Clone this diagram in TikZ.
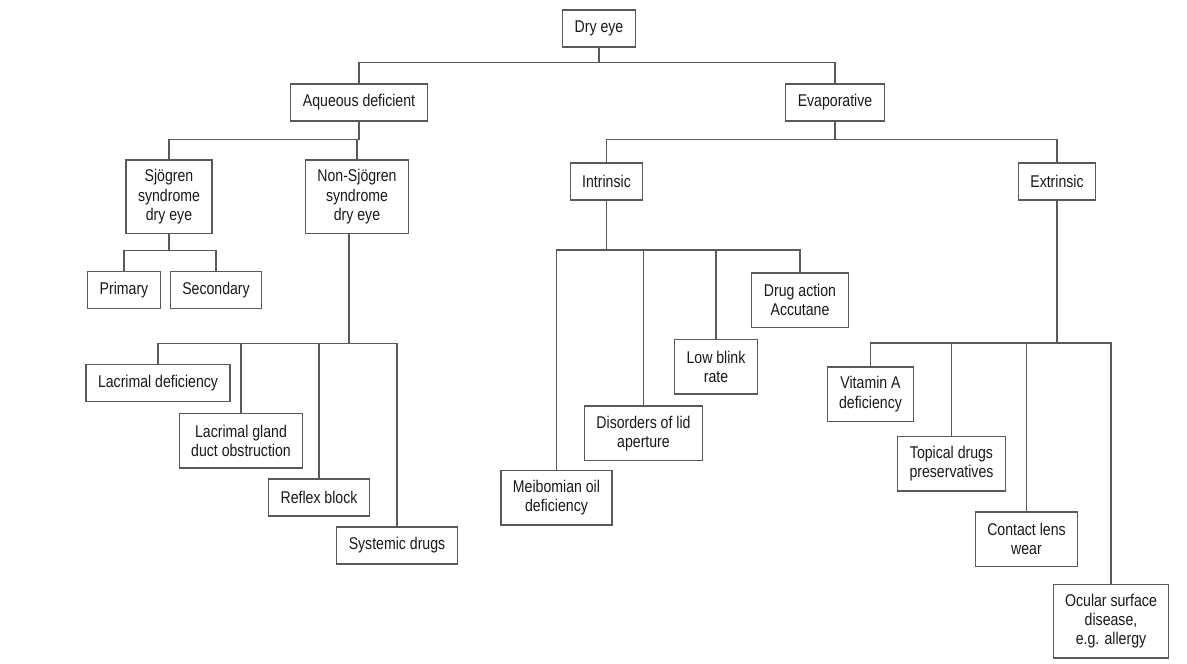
\documentclass[tikz,border=0pt]{standalone}
\usepackage{fontspec}
\setmainfont[FakeStretch=0.83]{Liberation Sans}
\usetikzlibrary{positioning}
\tikzset{box node/.style={draw=black!65, rectangle, align=center, inner xsep=12pt, inner ysep=4pt, outer sep=0pt, minimum height=37pt, text=black!90, font=\fontsize{17pt}{19.3pt}\selectfont},
two line/.style={box node, minimum height=54.5pt},
three line/.style={box node, minimum height=73.5pt},
branch/.style={to path={(\tikztostart.south) -- ++(0,-#1) -| (\tikztotarget.north)}},
left branch/.style={to path={([xshift=-8pt]\tikztostart.south) -- ++(0,-#1) -| (\tikztotarget.north)}},}

\begin{document}
\begin{tikzpicture}[line width=1.1pt]
        \useasboundingbox (0,0) rectangle (1187pt,-664pt);
        % Nodes
        \node[box node] (dry) at (599pt,-28.5pt) {Dry eye};
        \node[box node] [below=37pt of dry, xshift=-240pt] (aq) {Aqueous deficient};
        \node[box node] [below=37pt of dry, xshift=236pt] (evap) {Evaporative};
        \node[three line] [below=39pt of aq, xshift=-190pt] (sjo) {Sjögren\\syndrome\\dry eye};
        \node[three line] [below=39pt of aq, xshift=-2pt] (nonsjo) {Non-Sjögren\\syndrome\\dry eye};
        \node[box node] [below=38pt of sjo, xshift=-45pt] (primary) {Primary};
        \node[box node] [below=38pt of sjo, xshift=47pt] (secondary) {Secondary};
        \node[box node] [below=131pt of nonsjo, xshift=-199pt] (lacdef) {Lacrimal deficiency};
        \node[two line] [below=12pt of lacdef, xshift=83pt] (lacgland) {Lacrimal gland\\duct obstruction};
        \node[box node] [below=11pt of lacgland, xshift=78pt] (reflex) {Reflex block};
        \node[box node] [below=11pt of reflex, xshift=78pt] (systemic) {Systemic drugs};
        \node[box node] [below=42pt of evap, xshift=-228.5pt] (intr) {Intrinsic};
        \node[box node] [below=42pt of evap, xshift=222pt] (extr) {Extrinsic};
        \node[two line] [below=73pt of intr, xshift=193.5pt] (drug) {Drug action\\Accutane};
        \node[two line] [below=12pt of drug, xshift=-84pt] (lowblink) {Low blink\\rate};
        \node[two line] [below=12pt of lowblink, xshift=-72.5pt] (disorders) {Disorders of lid\\aperture};
        \node[two line] [below=10pt of disorders, xshift=-87pt] (meibo) {Meibomian oil\\deficiency};
        \node[two line] [below=167pt of extr, xshift=-186.5pt] (vita) {Vitamin A\\deficiency};
        \node[two line] [below=15pt of vita, xshift=81pt] (topical) {Topical drugs\\preservatives};
        \node[two line] [below=21pt of topical, xshift=75pt] (contact) {Contact lens\\wear};
        \node[three line] [below=18pt of contact, xshift=84.5pt] (ocular) {Ocular surface\\disease,\\e.g. allergy};
        % Paths
        \path[draw=black!65]
        (dry) edge[branch=15.7pt] (aq)
        (dry) edge[branch=15.7pt] (evap)
        (aq) edge[branch=18.5pt] (sjo)
        (aq) edge[branch=18.5pt] (nonsjo)
        (sjo) edge[branch=17pt] (primary)
        (sjo) edge[branch=17pt] (secondary)
        (nonsjo) edge[left branch=110pt] (lacdef)
        (nonsjo) edge[left branch=110pt] (lacgland)
        (nonsjo) edge[left branch=110pt] (reflex)
        (nonsjo) edge[left branch=110pt] (systemic)
        (evap) edge[branch=18.5pt] (intr)
        (evap) edge[branch=18.5pt] (extr)
        (intr) edge[branch=50pt] (meibo)
        (intr) edge[branch=50pt] (disorders)
        (intr) edge[branch=50pt] (lowblink)
        (intr) edge[branch=50pt] (drug)
        (extr) edge[branch=143pt] (vita)
        (extr) edge[branch=143pt] (topical)
        (extr) edge[branch=143pt] (contact)
        (extr) edge[branch=143pt] (ocular);
    \end{tikzpicture}
\end{document}
